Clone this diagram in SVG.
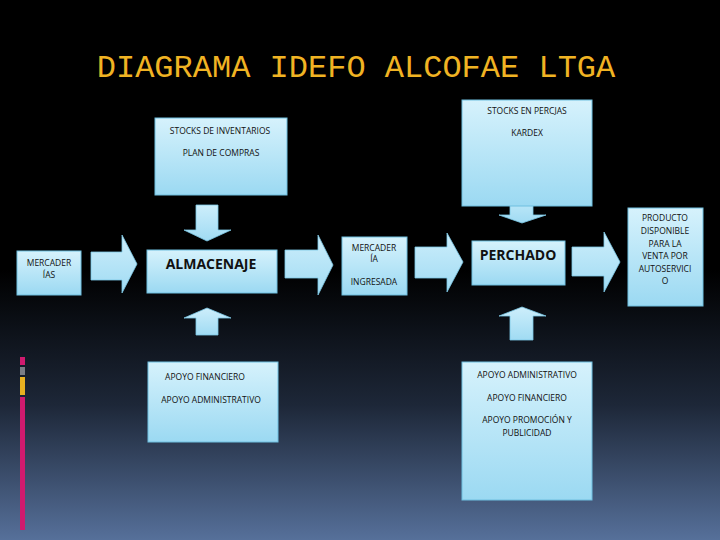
<svg xmlns="http://www.w3.org/2000/svg" width="720" height="540" viewBox="0 0 720 540">
<defs>
<linearGradient id="bg" x1="0" y1="0" x2="0" y2="1">
<stop offset="0" stop-color="#000"/><stop offset="0.5" stop-color="#000"/><stop offset="0.75" stop-color="#1d2738"/><stop offset="1" stop-color="#56709a"/>
</linearGradient>
<linearGradient id="bx" x1="0" y1="0" x2="0" y2="1">
<stop offset="0" stop-color="#d6f2fc"/><stop offset="1" stop-color="#9bd9f2"/>
</linearGradient>
<linearGradient id="ar" x1="0" y1="0" x2="0" y2="1">
<stop offset="0" stop-color="#cdeefb"/><stop offset="1" stop-color="#a0dbf3"/>
</linearGradient>
</defs>
<style>
.b{fill:url(#bx);stroke:#6fbfe0;stroke-width:1}
.a{fill:url(#ar);stroke:#7cc8e6;stroke-width:0.8}
.t{font-family:"Open Sans","Liberation Sans",sans-serif;font-size:8.5px;fill:#111;text-anchor:middle}
.big{font-family:"Open Sans","Liberation Sans",sans-serif;font-size:14px;font-weight:bold;fill:#111;text-anchor:middle}
</style>
<rect width="720" height="540" fill="url(#bg)"/>
<rect x="20" y="357" width="5" height="8" fill="#d01a6e"/>
<rect x="20" y="367" width="5" height="8" fill="#7a7d85"/>
<rect x="20" y="377" width="5" height="18" fill="#e8b020"/>
<rect x="20" y="397" width="5" height="133" fill="#d01a6e"/>
<text x="356" y="77" font-family="Liberation Mono,monospace" font-size="32" fill="#f0b323" text-anchor="middle">DIAGRAMA IDEFO ALCOFAE LTGA</text>
<g id="connectors">
<polygon class="a" points="91,252 122,252 122,235 137,264 122,293 122,280 91,280"/>
<polygon class="a" points="285,250 318,250 318,235 333,265 318,295 318,278 285,278"/>
<polygon class="a" points="415,247 447,247 447,233 463,262 447,292 447,278 415,278"/>
<polygon class="a" points="572,247 604,247 604,232 620,262 604,292 604,276 572,276"/>
<polygon class="a" points="196,205 218,205 218,230 231,230 207,241 184,230 196,230"/>
<polygon class="a" points="510,190 533,190 533,215 546,215 522,223 499,215 510,215"/>
<polygon class="a" points="196,335 218,335 218,318 231,318 207,308 184,318 196,318"/>
<polygon class="a" points="510,340 533,340 533,316 546,316 522,307 499,316 510,316"/>
</g>
<g id="mercaderias"><rect class="b" x="17" y="251" width="64" height="44"/><text class="t" x="49" y="266">MERCADER</text><text class="t" x="49" y="278">ÍAS</text></g>
<g id="almacenaje"><rect class="b" x="147" y="250" width="130" height="43"/><text class="big" x="211" y="269">ALMACENAJE</text></g>
<g id="ingresada"><rect class="b" x="342" y="237" width="65" height="58"/><text class="t" x="374" y="251">MERCADER</text><text class="t" x="374" y="262">ÍA</text><text class="t" x="374" y="285">INGRESADA</text></g>
<g id="perchado"><rect class="b" x="472" y="241" width="93" height="44"/><text class="big" x="518" y="260">PERCHADO</text></g>
<g id="producto"><rect class="b" x="628" y="208" width="75" height="98"/>
<text class="t" x="665" y="221">PRODUCTO</text><text class="t" x="665" y="234">DISPONIBLE</text><text class="t" x="665" y="247">PARA LA</text><text class="t" x="665" y="259">VENTA POR</text><text class="t" x="665" y="272">AUTOSERVICI</text><text class="t" x="665" y="284">O</text></g>
<g id="controles1"><rect class="b" x="155" y="118" width="132" height="77"/><text class="t" x="220" y="134">STOCKS DE INVENTARIOS</text><text class="t" x="221" y="156">PLAN DE COMPRAS</text></g>
<g id="controles2"><rect class="b" x="462" y="100" width="130" height="106"/><text class="t" x="527" y="114">STOCKS EN PERCJAS</text><text class="t" x="527" y="136">KARDEX</text></g>
<g id="mecanismos1"><rect class="b" x="148" y="362" width="130" height="80"/><text class="t" x="205" y="380">APOYO FINANCIERO</text><text class="t" x="211" y="403">APOYO ADMINISTRATIVO</text></g>
<g id="mecanismos2"><rect class="b" x="462" y="362" width="130" height="138"/><text class="t" x="527" y="378">APOYO ADMINISTRATIVO</text><text class="t" x="527" y="401">APOYO FINANCIERO</text><text class="t" x="527" y="423">APOYO PROMOCIÓN Y</text><text class="t" x="527" y="436">PUBLICIDAD</text></g>
</svg>
